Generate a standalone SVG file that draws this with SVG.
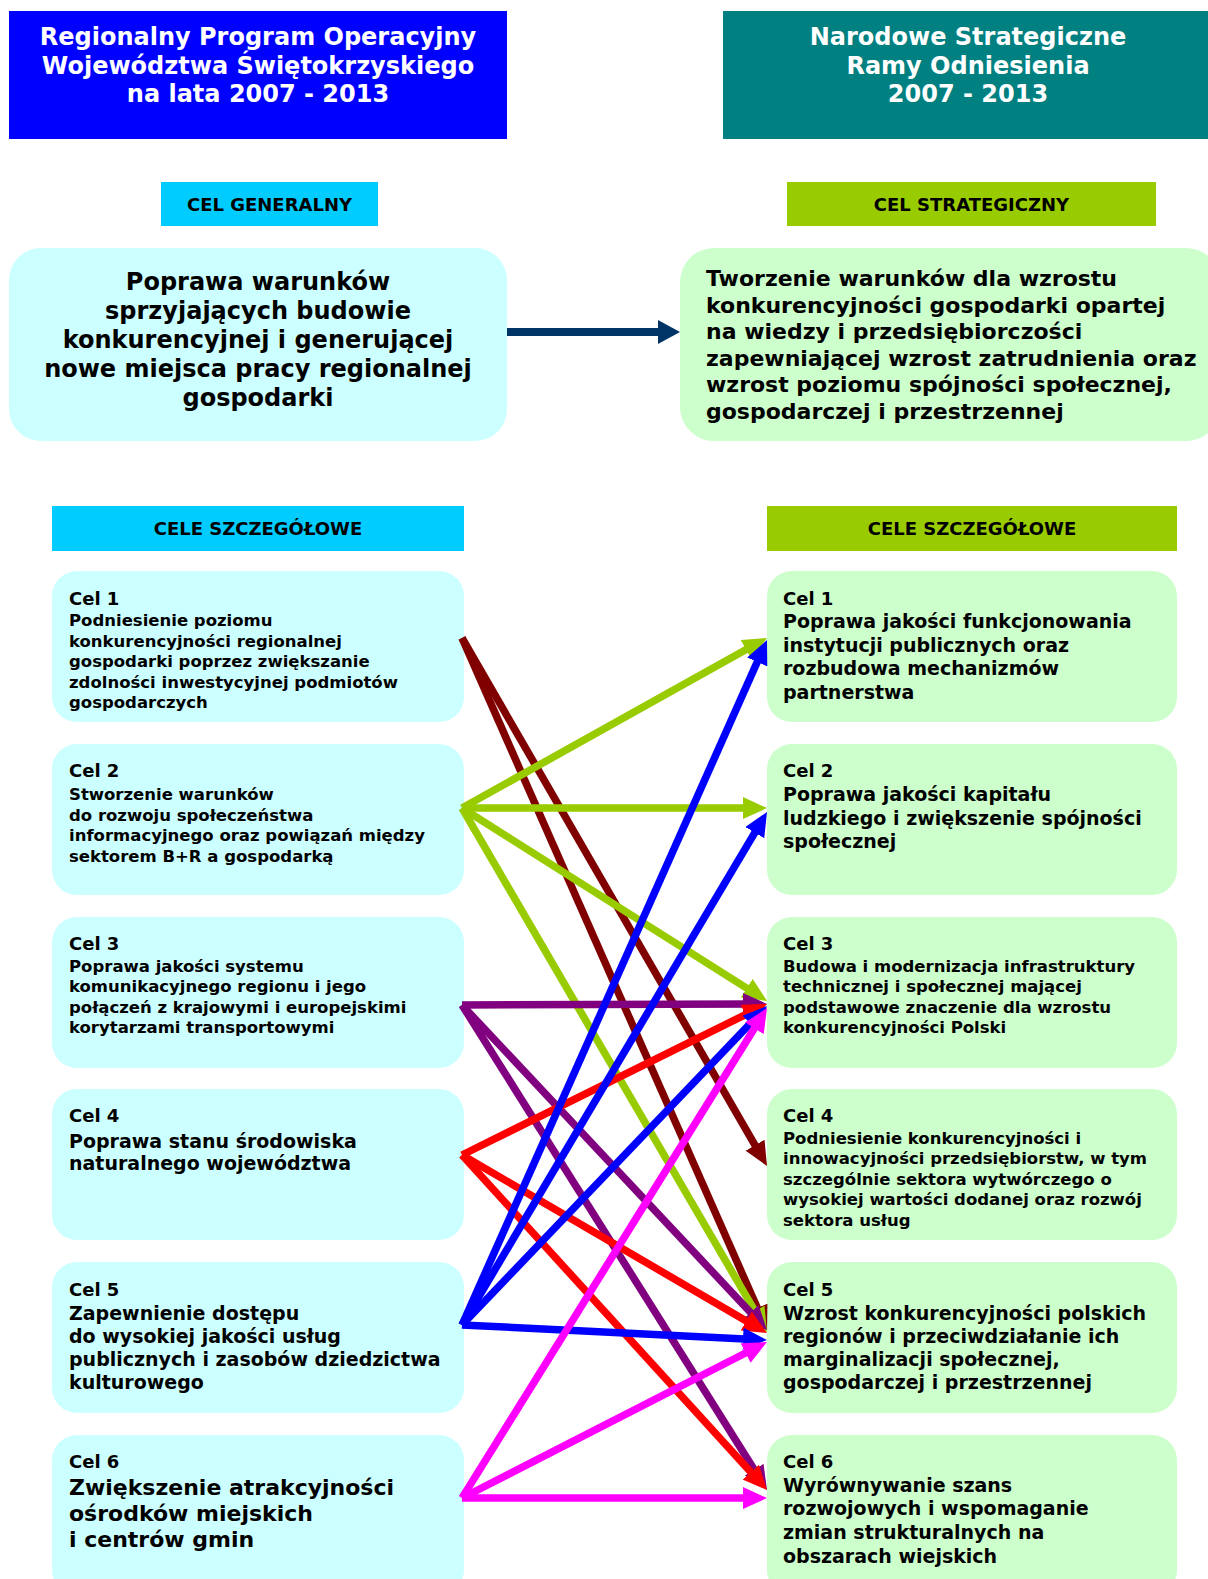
<svg xmlns="http://www.w3.org/2000/svg" width="1208" height="1579" viewBox="0 0 1208 1579">
<style>
text{font-family:"DejaVu Sans",Verdana,sans-serif;font-weight:bold;fill:#000}
.hd{fill:#fff;font-size:24px;text-anchor:middle}
.lab{font-size:18px;text-anchor:middle}
.bigL{font-size:24px;text-anchor:middle}
.bigR{font-size:22px}
.cel{font-size:18px}
.s16{font-size:16.5px}
.s19{font-size:19px}
.s22{font-size:22px}
.lbox{fill:#CCFFFF}
.rbox{fill:#CCFFCC}
.c{fill:none;stroke-width:7.5}
</style>
<defs>
<marker id="m-dr" markerUnits="userSpaceOnUse" markerWidth="24" markerHeight="22" refX="12" refY="11" orient="auto"><path d="M0,0 L24,11 L0,22 z" fill="#800000"/></marker>
<marker id="m-gr" markerUnits="userSpaceOnUse" markerWidth="24" markerHeight="22" refX="12" refY="11" orient="auto"><path d="M0,0 L24,11 L0,22 z" fill="#99CC00"/></marker>
<marker id="m-pu" markerUnits="userSpaceOnUse" markerWidth="24" markerHeight="22" refX="12" refY="11" orient="auto"><path d="M0,0 L24,11 L0,22 z" fill="#800080"/></marker>
<marker id="m-re" markerUnits="userSpaceOnUse" markerWidth="24" markerHeight="22" refX="12" refY="11" orient="auto"><path d="M0,0 L24,11 L0,22 z" fill="#FF0000"/></marker>
<marker id="m-bl" markerUnits="userSpaceOnUse" markerWidth="24" markerHeight="22" refX="12" refY="11" orient="auto"><path d="M0,0 L24,11 L0,22 z" fill="#0000FF"/></marker>
<marker id="m-ma" markerUnits="userSpaceOnUse" markerWidth="24" markerHeight="22" refX="12" refY="11" orient="auto"><path d="M0,0 L24,11 L0,22 z" fill="#FF00FF"/></marker>
<marker id="m-nv" markerUnits="userSpaceOnUse" markerWidth="22" markerHeight="24" refX="10" refY="12" orient="auto"><path d="M0,0 L22,12 L0,24 z" fill="#003366"/></marker>
</defs>
<rect width="1208" height="1579" fill="#fff"/>

<g id="header-rpo">
<rect x="9" y="11" width="498" height="128" fill="#0000FF"/>
<text class="hd"><tspan x="258" y="45">Regionalny Program Operacyjny</tspan><tspan x="258" y="73.5">Województwa Świętokrzyskiego</tspan><tspan x="258" y="102">na lata 2007 - 2013</tspan></text>
</g>
<g id="header-nsro">
<rect x="723" y="11" width="485" height="128" fill="#008080"/>
<text class="hd"><tspan x="968" y="45">Narodowe Strategiczne</tspan><tspan x="968" y="73.5">Ramy Odniesienia</tspan><tspan x="968" y="102">2007 - 2013</tspan></text>
</g>

<g id="label-cel-generalny">
<rect x="161" y="182" width="217" height="44" fill="#00CCFF"/>
<text class="lab" x="269.5" y="210.5">CEL GENERALNY</text>
</g>
<g id="label-cel-strategiczny">
<rect x="787" y="182" width="369" height="44" fill="#99CC00"/>
<text class="lab" x="971.5" y="210.5">CEL STRATEGICZNY</text>
</g>

<g id="cel-generalny">
<rect class="lbox" x="9" y="248" width="498" height="193" rx="32"/>
<text class="bigL"><tspan x="258" y="290">Poprawa warunków</tspan><tspan x="258" y="319">sprzyjających budowie</tspan><tspan x="258" y="348">konkurencyjnej i generującej</tspan><tspan x="258" y="377">nowe miejsca pracy regionalnej</tspan><tspan x="258" y="406">gospodarki</tspan></text>
</g>
<g id="cel-strategiczny">
<rect class="rbox" x="680" y="248" width="540" height="193" rx="34"/>
<text class="bigR"><tspan x="706" y="286">Tworzenie warunków dla wzrostu</tspan><tspan x="706" y="312.5">konkurencyjności gospodarki opartej</tspan><tspan x="706" y="339">na wiedzy i przedsiębiorczości</tspan><tspan x="706" y="365.5">zapewniającej wzrost zatrudnienia oraz</tspan><tspan x="706" y="392">wzrost poziomu spójności społecznej,</tspan><tspan x="706" y="418.5">gospodarczej i przestrzennej</tspan></text>
</g>

<g id="label-cele-l">
<rect x="52" y="506" width="412" height="45" fill="#00CCFF"/>
<text class="lab" x="258" y="535">CELE SZCZEGÓŁOWE</text>
</g>
<g id="label-cele-r">
<rect x="767" y="506" width="410" height="45" fill="#99CC00"/>
<text class="lab" x="972" y="535">CELE SZCZEGÓŁOWE</text>
</g>

<g id="L1">
<rect class="lbox" x="52" y="571" width="412" height="151" rx="25"/>
<text class="cel" x="69" y="605">Cel 1</text>
<text class="s16"><tspan x="69" y="626">Podniesienie poziomu</tspan><tspan x="69" y="646.5">konkurencyjności regionalnej</tspan><tspan x="69" y="667">gospodarki poprzez zwiększanie</tspan><tspan x="69" y="687.5">zdolności inwestycyjnej podmiotów</tspan><tspan x="69" y="708">gospodarczych</tspan></text>
</g>
<g id="L2">
<rect class="lbox" x="52" y="744" width="412" height="151" rx="25"/>
<text class="cel" x="69" y="777">Cel 2</text>
<text class="s16"><tspan x="69" y="800">Stworzenie warunków</tspan><tspan x="69" y="820.5">do rozwoju społeczeństwa</tspan><tspan x="69" y="841">informacyjnego oraz powiązań między</tspan><tspan x="69" y="861.5">sektorem B+R a gospodarką</tspan></text>
</g>
<g id="L3">
<rect class="lbox" x="52" y="917" width="412" height="151" rx="25"/>
<text class="cel" x="69" y="950">Cel 3</text>
<text class="s16"><tspan x="69" y="971.5">Poprawa jakości systemu</tspan><tspan x="69" y="992">komunikacyjnego regionu i jego</tspan><tspan x="69" y="1012.5">połączeń z krajowymi i europejskimi</tspan><tspan x="69" y="1033">korytarzami transportowymi</tspan></text>
</g>
<g id="L4">
<rect class="lbox" x="52" y="1089" width="412" height="151" rx="25"/>
<text class="cel" x="69" y="1122">Cel 4</text>
<text class="s19"><tspan x="69" y="1147.5">Poprawa stanu środowiska</tspan><tspan x="69" y="1169.7">naturalnego województwa</tspan></text>
</g>
<g id="L5">
<rect class="lbox" x="52" y="1262" width="412" height="151" rx="25"/>
<text class="cel" x="69" y="1295.5">Cel 5</text>
<text class="s19"><tspan x="69" y="1320">Zapewnienie dostępu</tspan><tspan x="69" y="1343">do wysokiej jakości usług</tspan><tspan x="69" y="1366">publicznych i zasobów dziedzictwa</tspan><tspan x="69" y="1389">kulturowego</tspan></text>
</g>
<g id="L6">
<rect class="lbox" x="52" y="1435" width="412" height="160" rx="25"/>
<text class="cel" x="69" y="1468">Cel 6</text>
<text class="s22"><tspan x="69" y="1495">Zwiększenie atrakcyjności</tspan><tspan x="69" y="1521">ośrodków miejskich</tspan><tspan x="69" y="1547">i centrów gmin</tspan></text>
</g>

<g id="R1">
<rect class="rbox" x="767" y="571" width="410" height="151" rx="25"/>
<text class="cel" x="783" y="605">Cel 1</text>
<text class="s19"><tspan x="783" y="628">Poprawa jakości funkcjonowania</tspan><tspan x="783" y="651.5">instytucji publicznych oraz</tspan><tspan x="783" y="675">rozbudowa mechanizmów</tspan><tspan x="783" y="698.5">partnerstwa</tspan></text>
</g>
<g id="R2">
<rect class="rbox" x="767" y="744" width="410" height="151" rx="25"/>
<text class="cel" x="783" y="777">Cel 2</text>
<text class="s19"><tspan x="783" y="801">Poprawa jakości kapitału</tspan><tspan x="783" y="824.5">ludzkiego i zwiększenie spójności</tspan><tspan x="783" y="848">społecznej</tspan></text>
</g>
<g id="R3">
<rect class="rbox" x="767" y="917" width="410" height="151" rx="25"/>
<text class="cel" x="783" y="950">Cel 3</text>
<text class="s16"><tspan x="783" y="971.5">Budowa i modernizacja infrastruktury</tspan><tspan x="783" y="992">technicznej i społecznej mającej</tspan><tspan x="783" y="1012.5">podstawowe znaczenie dla wzrostu</tspan><tspan x="783" y="1033">konkurencyjności Polski</tspan></text>
</g>
<g id="R4">
<rect class="rbox" x="767" y="1089" width="410" height="151" rx="25"/>
<text class="cel" x="783" y="1122">Cel 4</text>
<text class="s16"><tspan x="783" y="1143.6">Podniesienie konkurencyjności i</tspan><tspan x="783" y="1164.4">innowacyjności przedsiębiorstw, w tym</tspan><tspan x="783" y="1185">szczególnie sektora wytwórczego o</tspan><tspan x="783" y="1205.4">wysokiej wartości dodanej oraz rozwój</tspan><tspan x="783" y="1226">sektora usług</tspan></text>
</g>
<g id="R5">
<rect class="rbox" x="767" y="1262" width="410" height="151" rx="25"/>
<text class="cel" x="783" y="1295.5">Cel 5</text>
<text class="s19"><tspan x="783" y="1320">Wzrost konkurencyjności polskich</tspan><tspan x="783" y="1343">regionów i przeciwdziałanie ich</tspan><tspan x="783" y="1366">marginalizacji społecznej,</tspan><tspan x="783" y="1389">gospodarczej i przestrzennej</tspan></text>
</g>
<g id="R6">
<rect class="rbox" x="767" y="1435" width="410" height="160" rx="25"/>
<text class="cel" x="783" y="1468">Cel 6</text>
<text class="s19"><tspan x="783" y="1492">Wyrównywanie szans</tspan><tspan x="783" y="1515">rozwojowych i wspomaganie</tspan><tspan x="783" y="1539">zmian strukturalnych na</tspan><tspan x="783" y="1562.5">obszarach wiejskich</tspan></text>
</g>

<g id="connectors">
<line x1="507" y1="332" x2="668" y2="332" stroke="#003366" stroke-width="8" marker-end="url(#m-nv)"/>
<g class="c" stroke="#800000">
<line x1="462" y1="638" x2="761.0" y2="1155.6" marker-end="url(#m-dr)"/>
<line x1="462" y1="638" x2="762.2" y2="1319.0" marker-end="url(#m-dr)"/>
</g>
<g class="c" stroke="#99CC00">
<line x1="462" y1="808" x2="756.5" y2="643.8" marker-end="url(#m-gr)"/>
<line x1="462" y1="808" x2="755" y2="808" marker-end="url(#m-gr)"/>
<line x1="462" y1="808" x2="756.9" y2="994.6" marker-end="url(#m-gr)"/>
<line x1="462" y1="808" x2="761.0" y2="1321.6" marker-end="url(#m-gr)"/>
</g>
<g class="c" stroke="#800080">
<line x1="462" y1="1005" x2="755" y2="1004" marker-end="url(#m-pu)"/>
<line x1="462" y1="1005" x2="758.8" y2="1321.2" marker-end="url(#m-pu)"/>
<line x1="462" y1="1005" x2="760.6" y2="1479.8" marker-end="url(#m-pu)"/>
</g>
<g class="c" stroke="#FF0000">
<line x1="462" y1="1155" x2="756.2" y2="1009.3" marker-end="url(#m-re)"/>
<line x1="462" y1="1155" x2="756.6" y2="1327.0" marker-end="url(#m-re)"/>
<line x1="462" y1="1155" x2="758.9" y2="1481.1" marker-end="url(#m-re)"/>
</g>
<g class="c" stroke="#0000FF">
<line x1="462" y1="1325" x2="762.1" y2="651.0" marker-end="url(#m-bl)"/>
<line x1="462" y1="1325" x2="760.9" y2="822.3" marker-end="url(#m-bl)"/>
<line x1="462" y1="1325" x2="758.7" y2="1014.7" marker-end="url(#m-bl)"/>
<line x1="462" y1="1325" x2="755.0" y2="1339.4" marker-end="url(#m-bl)"/>
</g>
<g class="c" stroke="#FF00FF">
<line x1="462" y1="1498" x2="760.7" y2="1018.2" marker-end="url(#m-ma)"/>
<line x1="462" y1="1498" x2="756.3" y2="1347.5" marker-end="url(#m-ma)"/>
<line x1="462" y1="1498" x2="755" y2="1498" marker-end="url(#m-ma)"/>
</g>
</g>
</svg>
